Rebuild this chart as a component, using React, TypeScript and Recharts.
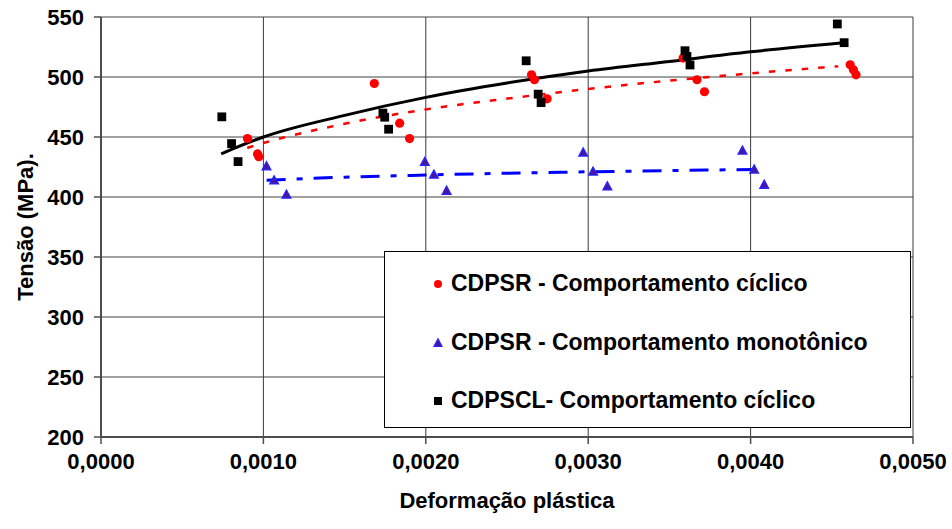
import { ComposedChart, Scatter, Line, XAxis, YAxis, CartesianGrid, Legend } from 'recharts'

const FONT = '"Liberation Sans", Arial, sans-serif'

const strainTicks = [0, 0.001, 0.002, 0.003, 0.004, 0.005]
const stressTicks = [200, 250, 300, 350, 400, 450, 500, 550]

// CDPSR - comportamento cíclico
const srCyclicStrain = [0.000902, 0.000964, 0.000972, 0.001683, 0.001839, 0.0019, 0.002651, 0.002669, 0.002747, 0.003584, 0.00367, 0.003716, 0.004613, 0.004633, 0.004649]
const srCyclicStress = [448.7, 435.9, 433.6, 494.6, 461.5, 448.7, 501.8, 497.7, 481.8, 515.8, 497.7, 487.7, 510.2, 506.0, 501.8]

// CDPSR - comportamento monotônico
const srMonoStrain = [0.001019, 0.001066, 0.001142, 0.001994, 0.00205, 0.002128, 0.002969, 0.00303, 0.003118, 0.00395, 0.004022, 0.004084]
const srMonoStress = [425.3, 413.6, 401.7, 429.0, 418.4, 405.0, 436.8, 420.9, 408.6, 438.4, 422.6, 410.0]

// CDPSCL - comportamento cíclico
const sclCyclicStrain = [0.000744, 0.000804, 0.000844, 0.001736, 0.001747, 0.001771, 0.002618, 0.002692, 0.00271, 0.003596, 0.003608, 0.003627, 0.004534, 0.004576]
const sclCyclicStress = [466.8, 444.5, 429.5, 469.9, 466.5, 456.5, 513.5, 485.7, 478.7, 521.9, 517.1, 510.0, 544.2, 528.6]

// linhas de tendência
const srCyclicTrendStrain = [0.0009, 0.001, 0.0015, 0.002, 0.0025, 0.003, 0.0035, 0.004, 0.00454]
const srCyclicTrendStress = [441, 445, 461, 473, 482, 490, 497, 503, 509]
const srMonoTrendStrain = [0.00102, 0.0015, 0.002, 0.0025, 0.003, 0.0035, 0.00405]
const srMonoTrendStress = [414, 416.5, 418.3, 419.8, 421, 422, 423]
const sclCyclicTrendStrain = [0.00074, 0.001, 0.0015, 0.002, 0.0025, 0.003, 0.0035, 0.004, 0.00457]
const sclCyclicTrendStress = [436, 450, 468, 483, 495, 505, 513, 521, 528.5]

const toPoints = (xs: number[], ys: number[]) => xs.map((x, i) => ({ x, y: ys[i] }))

const RedDot = (props: any) => <circle cx={props.cx} cy={props.cy} r={4.6} fill="#ff0000" />
const BlackSquare = (props: any) => (
  <rect x={props.cx - 4.4} y={props.cy - 4.4} width={8.8} height={8.8} fill="#000000" />
)
const BlueTriangle = (props: any) => {
  const { cx, cy } = props
  return (
    <polygon
      points={`${cx},${cy - 4.8} ${cx - 4.3},${cy + 3.2} ${cx + 4.3},${cy + 3.2}`}
      fill="#4d1496"
      stroke="#2424ff"
      strokeWidth={1.4}
    />
  )
}

const legendRows = [
  { label: 'CDPSR - Comportamento cíclico', marker: 'circle', top: 32 },
  { label: 'CDPSR - Comportamento monotônico', marker: 'triangle', top: 91 },
  { label: 'CDPSCL- Comportamento cíclico', marker: 'square', top: 149 },
]

function LegendMarker({ kind }: { kind: string }) {
  return (
    <svg width={14} height={14} style={{ position: 'absolute', left: 46, top: -7 }}>
      {kind === 'circle' && <circle cx={7} cy={7} r={4} fill="#ff0000" />}
      {kind === 'triangle' && (
        <polygon points="7,2.8 3,10.3 11,10.3" fill="#4d1496" stroke="#2424ff" strokeWidth={1.2} />
      )}
      {kind === 'square' && <rect x={3} y={3} width={8} height={8} fill="#000000" />}
    </svg>
  )
}

function LegendBox() {
  return (
    <div
      style={{
        position: 'relative',
        width: 527,
        height: 177,
        boxSizing: 'border-box',
        background: '#fff',
        border: '1px solid #000',
      }}
    >
      {legendRows.map((row) => (
        <div key={row.label} style={{ position: 'absolute', left: 0, top: row.top }}>
          <LegendMarker kind={row.marker} />
          <span
            style={{
              position: 'absolute',
              left: 66,
              top: -14,
              whiteSpace: 'nowrap',
              fontFamily: FONT,
              fontWeight: 'bold',
              fontSize: 23,
              lineHeight: '27px',
              color: '#000',
            }}
          >
            {row.label}
          </span>
        </div>
      ))}
    </div>
  )
}

const tickStyle = { fill: '#000', fontSize: 22, fontWeight: 'bold', fontFamily: FONT }
const titleStyle = { fill: '#000', fontSize: 22, fontWeight: 'bold', fontFamily: FONT }

export default function App() {
  return (
    <div style={{ position: 'absolute', left: 0, top: 0, background: '#fff' }}>
      <ComposedChart width={952} height={529} margin={{ top: 17, right: 39, bottom: 0, left: 0 }}>
        <CartesianGrid vertical={false} stroke="#808080" strokeWidth={1.5} />
        <CartesianGrid horizontal={false} stroke="#3a3a3a" strokeWidth={1} />
        <XAxis
          type="number"
          dataKey="x"
          domain={[0, 0.005]}
          ticks={strainTicks}
          interval={0}
          allowDataOverflow
          height={92}
          tickSize={7}
          tickMargin={9}
          tickFormatter={(v: number) => v.toFixed(4).replace('.', ',')}
          tick={tickStyle}
          axisLine={{ stroke: '#4d4d4d', strokeWidth: 2 }}
          tickLine={{ stroke: '#4d4d4d', strokeWidth: 1.5 }}
          label={{
            value: 'Deformação plástica',
            position: 'insideBottom',
            offset: 21,
            style: titleStyle,
          }}
        />
        <YAxis
          type="number"
          domain={[200, 550]}
          ticks={stressTicks}
          interval={0}
          allowDataOverflow
          width={101}
          tickSize={7}
          tickMargin={10}
          tick={tickStyle}
          axisLine={{ stroke: '#4d4d4d', strokeWidth: 2 }}
          tickLine={{ stroke: '#4d4d4d', strokeWidth: 1.5 }}
          label={{
            value: 'Tensão (MPa).',
            angle: -90,
            position: 'insideLeft',
            offset: 25,
            style: { ...titleStyle, textAnchor: 'middle' },
          }}
        />
        <Legend
          layout="vertical"
          align="center"
          verticalAlign="middle"
          content={() => <LegendBox />}
          wrapperStyle={{ left: 384, top: 251, width: 527, height: 177 }}
        />
        <Scatter
          name="CDPSR - Comportamento cíclico"
          data={toPoints(srCyclicStrain, srCyclicStress)}
          dataKey="y"
          shape={RedDot}
          isAnimationActive={false}
        />
        <Scatter
          name="CDPSR - Comportamento monotônico"
          data={toPoints(srMonoStrain, srMonoStress)}
          dataKey="y"
          shape={BlueTriangle}
          isAnimationActive={false}
        />
        <Scatter
          name="CDPSCL- Comportamento cíclico"
          data={toPoints(sclCyclicStrain, sclCyclicStress)}
          dataKey="y"
          shape={BlackSquare}
          isAnimationActive={false}
        />
        <Line
          data={toPoints(srCyclicTrendStrain, srCyclicTrendStress)}
          dataKey="y"
          type="monotone"
          stroke="#ff0000"
          strokeWidth={2.5}
          strokeDasharray="6.5 10"
          dot={false}
          activeDot={false}
          legendType="none"
          isAnimationActive={false}
        />
        <Line
          data={toPoints(srMonoTrendStrain, srMonoTrendStress)}
          dataKey="y"
          type="monotone"
          stroke="#0000ff"
          strokeWidth={3}
          strokeDasharray="19 11 6 11"
          dot={false}
          activeDot={false}
          legendType="none"
          isAnimationActive={false}
        />
        <Line
          data={toPoints(sclCyclicTrendStrain, sclCyclicTrendStress)}
          dataKey="y"
          type="monotone"
          stroke="#000000"
          strokeWidth={3}
          dot={false}
          activeDot={false}
          legendType="none"
          isAnimationActive={false}
        />
      </ComposedChart>
    </div>
  )
}
